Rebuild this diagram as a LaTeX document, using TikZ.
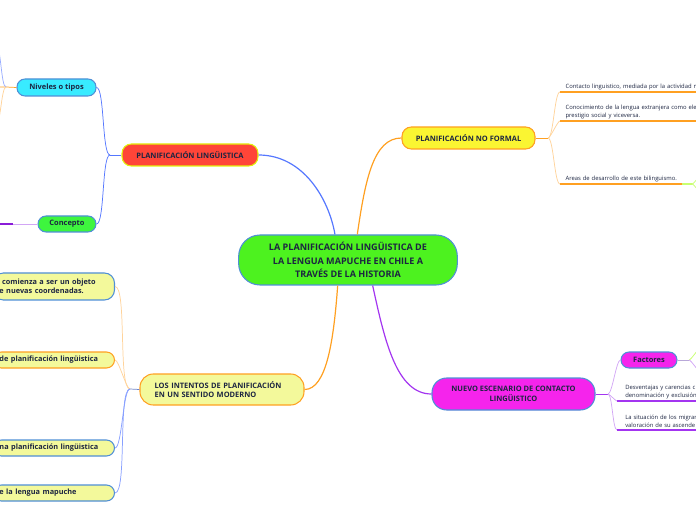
\documentclass[tikz,border=0pt]{standalone}
\usepackage{fontspec}
\setmainfont{Open Sans}
\newcommand{\mmsize}[2]{\fontsize{#1}{#2}\selectfont}

\definecolor{ink}{HTML}{1C2541}
\definecolor{nodeblue}{HTML}{4F8FD6}
\definecolor{rootgreen}{HTML}{4DF21F}
\definecolor{redfill}{HTML}{FF4538}
\definecolor{yellowedge}{HTML}{E2F20D}
\definecolor{cyanfill}{HTML}{38EBFF}
\definecolor{greenfill}{HTML}{3EF53E}
\definecolor{paleyellow}{HTML}{F3F99B}
\definecolor{yellowfill}{HTML}{FAF532}
\definecolor{magentafill}{HTML}{F524EC}
\definecolor{linkblue}{HTML}{5577FF}
\definecolor{linkorange}{HTML}{FFA021}
\definecolor{linkpurple}{HTML}{A335F0}
\definecolor{darkpurple}{HTML}{8A1CD8}
\definecolor{lavender}{HTML}{D2A6F5}
\definecolor{lightorange}{HTML}{FFD39A}
\definecolor{lightgreen}{HTML}{C8FF70}
\definecolor{slateblue}{HTML}{7086C8}
\definecolor{greylilac}{HTML}{B8A8D8}

\tikzset{
    x=0.75pt, y=-0.75pt,
    topic/.style={draw=nodeblue, line width=0.8pt, text=ink, align=center, inner sep=0pt, font=\bfseries\mmsize{5.6}{7.6}},
    subtopic/.style={topic, minimum height=12pt, rounded corners=6pt},
    leftleaf/.style={subtopic, fill=paleyellow, anchor=east, text width=81.75pt, inner xsep=4.5pt, align=left, font=\bfseries\mmsize{5.5}{6.9}},
    textleaf/.style={anchor=south west, text=ink, inner xsep=4pt, inner ysep=1.5pt, text width=140pt, align=left, font=\mmsize{4.4}{6}},
    mainlink/.style={line width=0.9pt},
    twig/.style={line width=0.55pt},
    underline/.style={line width=1.4pt}
}

\begin{document}
\begin{tikzpicture}
\useasboundingbox (0,0) rectangle (696,520);
\clip (0,0) rectangle (696,520);

% central topic
\node[topic, fill=rootgreen, minimum width=164pt, minimum height=37.5pt, rounded corners=16pt, font=\bfseries\mmsize{6.8}{10}] (root) at (348,260) {LA PLANIFICACIÓN LINGÜISTICA DE\\LA LENGUA MAPUCHE EN CHILE A\\TRAVÉS DE LA HISTORIA};

% main topics
\node[topic, fill=redfill, draw=yellowedge, minimum width=102pt, minimum height=16.5pt, rounded corners=7pt] (planling) at (190,155) {PLANIFICACIÓN LINGÜISTICA};
\node[topic, fill=yellowfill, draw=linkorange, minimum width=99.75pt, minimum height=16.5pt, rounded corners=7pt] (nonformal) at (468.5,138) {PLANIFICACIÓN NO FORMAL};
\node[topic, fill=paleyellow, draw=linkorange, minimum width=123pt, minimum height=23.25pt, rounded corners=10pt, text width=101pt, inner xsep=11pt, align=left, font=\bfseries\mmsize{5.6}{6.7}] (intentos) at (222,389.5) {LOS INTENTOS DE PLANIFICACIÓN\\EN UN SENTIDO MODERNO};
\node[topic, fill=magentafill, minimum width=122.25pt, minimum height=24pt, rounded corners=11pt] (nuevo) at (513.5,394) {NUEVO ESCENARIO DE CONTACTO\\LINGÜISTICO};

\draw[mainlink, linkblue] (planling.east) .. controls +(45,0) and +(-6,-35) .. (root.117);
\draw[mainlink, linkorange] (root.70) .. controls +(8,-55) and +(-28,0) .. (nonformal.west);
\draw[mainlink, linkorange] (root.248) .. controls +(-4,55) and +(22,0) .. (intentos.east);
\draw[mainlink, linkpurple] (root.314) .. controls +(12,55) and +(-35,0) .. (nuevo.west);

% planificacion linguistica
\node[subtopic, fill=cyanfill, minimum width=59.25pt, minimum height=12.75pt] (niveles) at (56.5,87.5) {Niveles o tipos};
\node[subtopic, fill=greenfill, minimum width=43.5pt] (concepto) at (67,224) {Concepto};
\coordinate (plj) at (110,155);
\draw[twig, linkblue] (planling.west) -- (plj);
\draw[twig, linkblue] (plj) to[out=180, in=0, looseness=.3] (niveles.east);
\draw[twig, linkblue] (plj) to[out=180, in=0, looseness=.3] (concepto.east);

\coordinate (nj) at (6,87);
\coordinate (nivup) at (-4,45);
\coordinate (nivmid) at (-10,87);
\coordinate (nivdown) at (-4,125);
\draw[twig, linkorange] (niveles.west) -- (nj) -- (nivmid);
\draw[twig, linkblue!60] (nj) to[out=180, in=0, looseness=.3] (nivup);
\draw[twig, lightorange] (nj) to[out=180, in=0, looseness=.3] (nivdown);

\coordinate (cj) at (13,224);
\coordinate (cout) at (-10,224);
\draw[twig, lavender] (concepto.west) -- (cj);
\draw[line width=1pt, darkpurple] (cj) -- (cout);

% intentos
\node[leftleaf, draw=nodeblue, minimum height=20.25pt, rounded corners=7.5pt] (leafone) at (115,286.5) {\hspace{2pt}comienza a ser un objeto\\e nuevas coordenadas.};
\node[leftleaf, draw=linkorange] (leaftwo) at (115,360) {de planificación lingüistica};
\node[leftleaf] (leafthree) at (115,448) {na planificación lingüistica};
\node[leftleaf] (leaffour) at (115,493) {e la lengua mapuche};
\coordinate (ij) at (130,389);
\draw[twig, slateblue] (intentos.west) -- (ij);
\draw[twig, lightorange] (ij) to[out=180, in=0, looseness=.3] (leafone.east);
\draw[twig, lightorange] (ij) to[out=180, in=0, looseness=.3] (leaftwo.east);
\draw[twig, linkblue!70] (ij) to[out=180, in=0, looseness=.3] (leafthree.east);
\draw[twig, linkblue!70] (ij) to[out=180, in=0, looseness=.3] (leaffour.east);

% no formal
\node[textleaf] (leafa) at (560,92) {Contacto linguistico, mediada por la actividad m};
\node[textleaf] (leafb) at (560,121) {Conocimiento de la lengua extranjera como ele\\prestigio social y viceversa.};
\node[textleaf] (leafc) at (560,184) {Areas de desarrollo de este bilinguismo.};
\coordinate (nfj) at (548,138);
\draw[twig, linkorange] (nonformal.east) -- (nfj);
\draw[twig, lightorange] (nfj) to[out=0, in=180, looseness=.3] (leafa.south west);
\draw[twig, lightorange] (nfj) to[out=0, in=180, looseness=.3] (leafb.south west);
\draw[twig, lightorange] (nfj) to[out=0, in=180, looseness=.3] (leafc.south west);
\draw[underline, linkorange] (leafa.south west) -- (leafa.south east);
\draw[underline, linkorange] (leafb.south west) -- (leafb.south east);

\coordinate (lcj) at (682,184);
\coordinate (lcg) at (692,184);
\coordinate (lcup) at (704,172);
\coordinate (lcdown) at (704,196);
\draw[underline, linkorange] (leafc.south west) -- (lcj);
\draw[underline, lightgreen] (lcj) -- (lcg);
\draw[twig, lightgreen] (lcg) to[out=0, in=180, looseness=.3] (lcup);
\draw[twig, lightgreen] (lcg) to[out=0, in=180, looseness=.3] (lcdown);

% nuevo escenario
\node[subtopic, fill=magentafill, minimum width=42pt] (factores) at (649,360) {Factores};
\node[textleaf, inner xsep=6pt] (leafd) at (617,401) {Desventajas y carencias c\\denominación y exclusión};
\node[textleaf, inner xsep=6pt] (leafe) at (617,430) {La situación de los migrar\\valoración de su ascende};
\coordinate (nuj) at (608,394);
\draw[twig, linkpurple] (nuevo.east) -- (nuj);
\draw[twig, lavender] (nuj) to[out=0, in=180, looseness=.3] (factores.west);
\draw[twig, lavender] (nuj) to[out=0, in=180, looseness=.3] (leafd.south west);
\draw[twig, lavender] (nuj) to[out=0, in=180, looseness=.3] (leafe.south west);
\draw[underline, linkpurple] (leafd.south west) -- (leafd.south east);
\draw[underline, linkpurple] (leafe.south west) -- (leafe.south east);

\coordinate (fj) at (689,360);
\coordinate (fup) at (702,346);
\coordinate (fdown) at (702,374);
\draw[twig, greylilac] (factores.east) -- (fj);
\draw[twig, lightgreen] (fj) to[out=0, in=180, looseness=.3] (fup);
\draw[twig, lavender] (fj) to[out=0, in=180, looseness=.3] (fdown);
\end{tikzpicture}
\end{document}
